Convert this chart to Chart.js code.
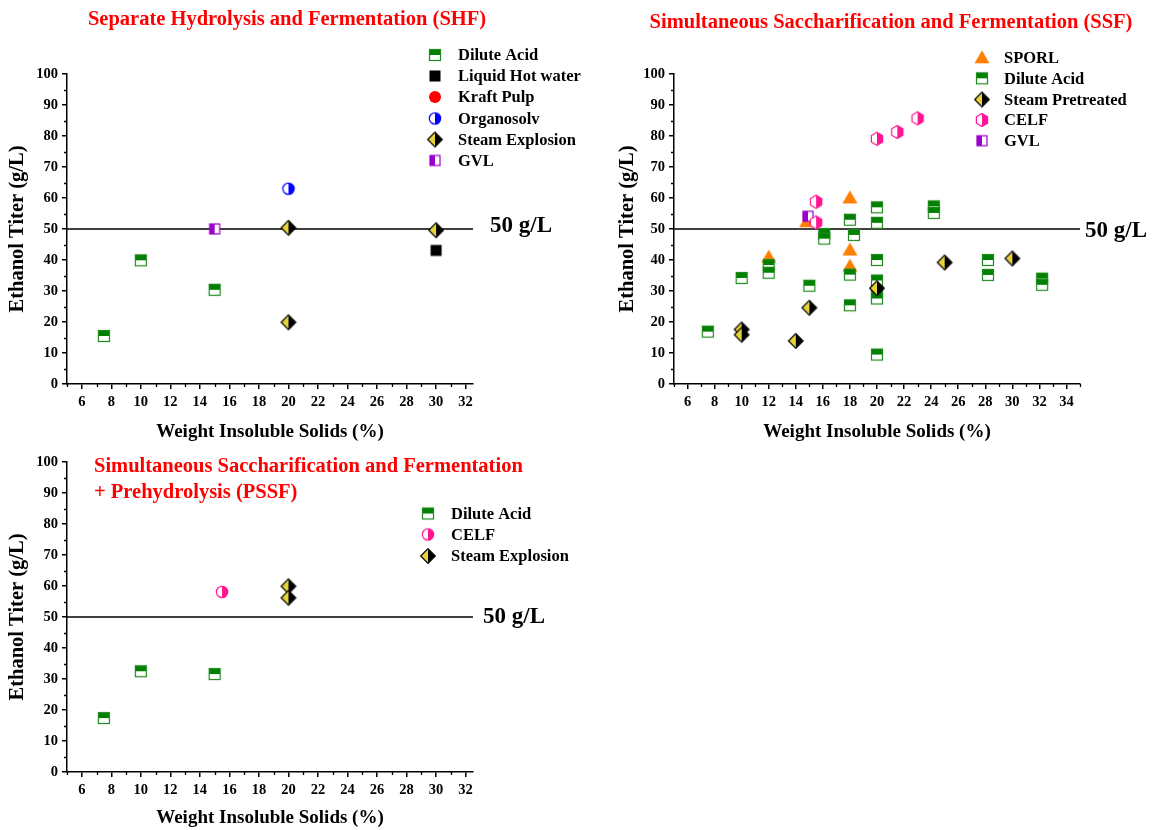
<!DOCTYPE html>
<html><head><meta charset="utf-8">
<script src="https://cdn.jsdelivr.net/npm/chart.js@4/dist/chart.umd.min.js"></script>
<style>
html,body{margin:0;padding:0;background:#fff;}
#wrap{position:relative;width:1153px;height:830px;overflow:hidden;background:#fff;}
canvas{position:absolute;}
</style></head><body>
<div id="wrap">
<canvas id="c1" width="600" height="445" style="left:0;top:0;width:600px;height:445px"></canvas>
<canvas id="c2" width="553" height="445" style="left:600px;top:0;width:553px;height:445px"></canvas>
<canvas id="c3" width="600" height="385" style="left:0;top:445px;width:600px;height:385px"></canvas>
</div>
<script>
// ---------------- DATA ----------------
const yTickValues = [0, 10, 20, 30, 40, 50, 60, 70, 80, 90, 100];
const yMinorValues = [5, 15, 25, 35, 45, 55, 65, 75, 85, 95];
const xTickValuesA = [6, 8, 10, 12, 14, 16, 18, 20, 22, 24, 26, 28, 30, 32];
const xMinorValuesA = [5, 7, 9, 11, 13, 15, 17, 19, 21, 23, 25, 27, 29, 31];
const xTickValuesB = [6, 8, 10, 12, 14, 16, 18, 20, 22, 24, 26, 28, 30, 32, 34];
const xMinorValuesB = [5, 7, 9, 11, 13, 15, 17, 19, 21, 23, 25, 27, 29, 31, 33, 35];
const xRangeA = [5, 32.5];
const xRangeB = [5, 35];
const yRange = [0, 100];
const thresholdY = 50;
const thresholdLabel = '50 g/L';

// SHF
const shfDiluteAcidX = [7.5, 10, 15];
const shfDiluteAcidY = [15.5, 39.9, 30.4];
const shfLiquidHotWaterX = [30];
const shfLiquidHotWaterY = [43.1];
const shfKraftPulpX = [];
const shfKraftPulpY = [];
const shfOrganosolvX = [20];
const shfOrganosolvY = [63];
const shfSteamExplosionX = [20, 20, 30];
const shfSteamExplosionY = [50.4, 19.9, 49.6];
const shfGvlX = [15];
const shfGvlY = [50];

// SSF
const ssfSporlX = [12, 14.8, 18, 18, 18];
const ssfSporlY = [41.1, 52.5, 60.2, 43.4, 38.2];
const ssfDiluteAcidX = [7.5, 10, 12, 12, 15, 16.1, 16.1, 18, 18.3, 18, 18, 20, 20, 20, 20, 20, 20, 20, 24.2, 24.2, 28.2, 28.2, 32.2, 32.2];
const ssfDiluteAcidY = [16.9, 34.2, 38.4, 35.9, 31.7, 48.4, 46.9, 53, 48.1, 35.3, 25.4, 57, 52, 40, 33.4, 29.3, 27.6, 9.5, 57.3, 55.2, 40, 35.2, 34, 32];
const ssfSteamPretreatedX = [10, 10, 14, 15, 20, 25, 30];
const ssfSteamPretreatedY = [17.6, 15.9, 13.9, 24.6, 30.9, 39.2, 40.5];
const ssfCelfX = [15.5, 15.5, 20, 21.5, 23];
const ssfCelfY = [58.8, 52.1, 79.1, 81.3, 85.7];
const ssfGvlX = [14.9];
const ssfGvlY = [54.1];

// PSSF
const pssfDiluteAcidX = [7.5, 10, 15];
const pssfDiluteAcidY = [17.4, 32.5, 31.6];
const pssfCelfX = [15.5];
const pssfCelfY = [58.1];
const pssfSteamExplosionX = [20, 20];
const pssfSteamExplosionY = [59.9, 56.2];

// ---------------- STYLE ----------------
const FONT = '"Liberation Serif", "Times New Roman", serif';
Chart.defaults.font.family = FONT;
Chart.defaults.font.weight = 'bold';
Chart.defaults.color = '#000';

const C_GREEN = '#008000', C_YEL = '#e6d43a', C_PURP = '#9900cc', C_MAG = '#ff1493', C_BLUE = '#0000ff', C_ORANGE = '#ff7f00';

function marker(kind) {
  const S = 18, m = S / 2;
  const c = document.createElement('canvas');
  c.width = S; c.height = S;
  const g = c.getContext('2d');
  g.lineWidth = 1.2;
  if (kind === 'dilute') {
    g.fillStyle = '#fff'; g.fillRect(m - 5.5, m - 5.5, 11, 11);
    g.fillStyle = C_GREEN; g.fillRect(m - 5.5, m - 5.5, 11, 5.5);
    g.strokeStyle = '#1f8a1f'; g.strokeRect(m - 5.5, m - 5.5, 11, 11);
  } else if (kind === 'lhw') {
    g.fillStyle = '#000'; g.fillRect(m - 5.5, m - 5.5, 11, 11);
  } else if (kind === 'kraft') {
    g.fillStyle = '#ff0000'; g.beginPath(); g.arc(m, m, 6, 0, Math.PI * 2); g.fill();
  } else if (kind === 'organo' || kind === 'celfCirc') {
    const col = kind === 'organo' ? C_BLUE : C_MAG;
    g.fillStyle = '#fff'; g.beginPath(); g.arc(m, m, 5.7, 0, Math.PI * 2); g.fill();
    g.fillStyle = col; g.beginPath(); g.arc(m, m, 5.7, -Math.PI / 2, Math.PI / 2); g.closePath(); g.fill();
    g.strokeStyle = col; g.beginPath(); g.arc(m, m, 5.7, 0, Math.PI * 2); g.stroke();
  } else if (kind === 'steam') {
    const r = 7.3;
    g.fillStyle = C_YEL; g.beginPath(); g.moveTo(m, m - r); g.lineTo(m - r, m); g.lineTo(m, m + r); g.closePath(); g.fill();
    g.fillStyle = '#000'; g.beginPath(); g.moveTo(m, m - r); g.lineTo(m + r, m); g.lineTo(m, m + r); g.closePath(); g.fill();
    g.strokeStyle = '#000'; g.beginPath(); g.moveTo(m, m - r); g.lineTo(m + r, m); g.lineTo(m, m + r); g.lineTo(m - r, m); g.closePath(); g.stroke();
  } else if (kind === 'gvl') {
    g.fillStyle = '#fff'; g.fillRect(m - 5, m - 5, 10, 10);
    g.fillStyle = C_PURP; g.fillRect(m - 5, m - 5, 5, 10);
    g.strokeStyle = C_PURP; g.strokeRect(m - 5, m - 5, 10, 10);
  } else if (kind === 'sporl') {
    g.fillStyle = C_ORANGE; g.beginPath(); g.moveTo(m, m - 7); g.lineTo(m + 7.5, m + 6); g.lineTo(m - 7.5, m + 6); g.closePath(); g.fill();
  } else if (kind === 'celfHex') {
    const r = 6.5, pts = [];
    for (let i = 0; i < 6; i++) { const a = -Math.PI / 2 + i * Math.PI / 3; pts.push([m + r * Math.cos(a), m + r * Math.sin(a)]); }
    g.fillStyle = '#fff'; g.beginPath(); pts.forEach((p, i) => i ? g.lineTo(p[0], p[1]) : g.moveTo(p[0], p[1])); g.closePath(); g.fill();
    g.fillStyle = C_MAG; g.beginPath(); g.moveTo(pts[0][0], pts[0][1]); g.lineTo(pts[1][0], pts[1][1]); g.lineTo(pts[2][0], pts[2][1]); g.lineTo(pts[3][0], pts[3][1]); g.closePath(); g.fill();
    g.strokeStyle = C_MAG; g.beginPath(); pts.forEach((p, i) => i ? g.lineTo(p[0], p[1]) : g.moveTo(p[0], p[1])); g.closePath(); g.stroke();
  }
  return c;
}
const M = {};
['dilute', 'lhw', 'kraft', 'organo', 'celfCirc', 'steam', 'gvl', 'sporl', 'celfHex'].forEach(k => M[k] = marker(k));

function pts(xs, ys) { return xs.map((x, i) => ({ x: x, y: ys[i] })); }
function ds(label, xs, ys, kind) {
  return { label: label, data: pts(xs, ys), pointStyle: M[kind], pointRadius: 7, pointHoverRadius: 7, showLine: false, _kind: kind };
}
function refLine(range) {
  return { label: 'ref', data: [{ x: range[0], y: thresholdY }, { x: range[1], y: thresholdY }], showLine: true, borderColor: '#000', borderWidth: 1.5, pointRadius: 0, order: 99, _ref: true };
}

function overlay(cfg) {
  return {
    id: 'overlay',
    afterDraw(chart) {
      const ctx = chart.ctx, xs = chart.scales.x, ys = chart.scales.y, a = chart.chartArea;
      ctx.save();
      // minor ticks
      ctx.strokeStyle = '#000'; ctx.lineWidth = 1.3;
      ctx.beginPath();
      cfg.xMinor.forEach(v => { const p = Math.round(xs.getPixelForValue(v)) + 0.5; ctx.moveTo(p, a.bottom); ctx.lineTo(p, a.bottom + 3); });
      yMinorValues.forEach(v => { const p = Math.round(ys.getPixelForValue(v)) + 0.5; ctx.moveTo(a.left, p); ctx.lineTo(a.left - 3, p); });
      ctx.stroke();
      // titles
      ctx.fillStyle = '#ff0000';
      ctx.font = 'bold 20.5px ' + FONT;
      ctx.textBaseline = 'middle';
      cfg.titles.forEach(t => { ctx.textAlign = t.align; ctx.fillText(t.text, t.x, t.y); });
      // legend
      ctx.fillStyle = '#000';
      ctx.font = 'bold 16.5px ' + FONT;
      ctx.textAlign = 'left';
      const items = chart.data.datasets.filter(d => !d._ref);
      cfg.legendOrder.forEach((idx, i) => {
        const d = items[idx];
        const y = cfg.legendY[i];
        ctx.drawImage(d.pointStyle, cfg.legendMarkerX - 9, y - 9);
        ctx.fillText(d.label, cfg.legendTextX, y + 1);
      });
      // threshold label
      ctx.font = 'bold 23px ' + FONT;
      ctx.fillText(thresholdLabel, cfg.refLabelX, ys.getPixelForValue(thresholdY) + cfg.refLabelDY);
      ctx.restore();
    }
  };
}

function makeChart(id, datasets, o) {
  return new Chart(document.getElementById(id), {
    type: 'scatter',
    data: { datasets: datasets },
    options: {
      responsive: false, animation: false, devicePixelRatio: 1,
      layout: { padding: o.padding },
      plugins: { legend: { display: false }, tooltip: { enabled: false } },
      events: [],
      scales: {
        x: {
          type: 'linear', min: o.xRange[0], max: o.xRange[1],
          afterBuildTicks: s => { s.ticks = o.xTicks.map(v => ({ value: v })); },
          afterFit: s => { s.height = o.xHeight; },
          ticks: { font: { size: 14.5, weight: 'bold' }, padding: 5, maxRotation: 0, autoSkip: false, color: '#000' },
          grid: { drawOnChartArea: false, drawTicks: true, tickLength: 5, color: '#000', lineWidth: 1.5 },
          border: { display: true, color: '#000', width: 1.5 },
          title: { display: true, text: 'Weight Insoluble Solids (%)', font: { size: 19, weight: 'bold' }, color: '#000', padding: { top: 0, bottom: o.xTitlePad } }
        },
        y: {
          type: 'linear', min: yRange[0], max: yRange[1],
          afterBuildTicks: s => { s.ticks = yTickValues.map(v => ({ value: v })); },
          afterFit: s => { s.width = o.yWidth; },
          ticks: { font: { size: 14.5, weight: 'bold' }, padding: 4, autoSkip: false, color: '#000' },
          grid: { drawOnChartArea: false, drawTicks: true, tickLength: 5, color: '#000', lineWidth: 1.5 },
          border: { display: true, color: '#000', width: 1.5 },
          title: { display: true, text: 'Ethanol Titer (g/L)', font: { size: 20.5, weight: 'bold' }, color: '#000', padding: { top: 5.7, bottom: 0 } }
        }
      }
    },
    plugins: [overlay(o.overlay)]
  });
}

// ---- Chart 1: SHF ----
makeChart('c1', [
  ds('GVL', shfGvlX, shfGvlY, 'gvl'),
  ds('Steam Explosion', shfSteamExplosionX, shfSteamExplosionY, 'steam'),
  ds('Organosolv', shfOrganosolvX, shfOrganosolvY, 'organo'),
  ds('Kraft Pulp', shfKraftPulpX, shfKraftPulpY, 'kraft'),
  ds('Liquid Hot water', shfLiquidHotWaterX, shfLiquidHotWaterY, 'lhw'),
  ds('Dilute Acid', shfDiluteAcidX, shfDiluteAcidY, 'dilute'),
  refLine(xRangeA)
], {
  padding: { left: 0, top: 74, right: 127, bottom: 0 },
  xRange: xRangeA, xTicks: xTickValuesA, xHeight: 61, yWidth: 67, xTitlePad: 1.6,
  overlay: {
    xMinor: xMinorValuesA,
    titles: [{ text: 'Separate Hydrolysis and Fermentation (SHF)', x: 287, y: 20, align: 'center' }],
    legendOrder: [5, 4, 3, 2, 1, 0], legendY: [55, 76, 97, 118.5, 139.5, 160.5],
    legendMarkerX: 435, legendTextX: 458, refLabelX: 490, refLabelDY: -3
  }
});

// ---- Chart 2: SSF ----
makeChart('c2', [
  ds('CELF', ssfCelfX, ssfCelfY, 'celfHex'),
  ds('GVL', ssfGvlX, ssfGvlY, 'gvl'),
  ds('Steam Pretreated', ssfSteamPretreatedX, ssfSteamPretreatedY, 'steam'),
  ds('Dilute Acid', ssfDiluteAcidX, ssfDiluteAcidY, 'dilute'),
  ds('SPORL', ssfSporlX, ssfSporlY, 'sporl'),
  refLine(xRangeB)
], {
  padding: { left: 10, top: 74, right: 73, bottom: 0 },
  xRange: xRangeB, xTicks: xTickValuesB, xHeight: 61, yWidth: 64, xTitlePad: 1.6,
  overlay: {
    xMinor: xMinorValuesB,
    titles: [{ text: 'Simultaneous Saccharification and Fermentation (SSF)', x: 291, y: 23, align: 'center' }],
    legendOrder: [4, 3, 2, 0, 1], legendY: [57.3, 78.3, 99.5, 120, 140.7],
    legendMarkerX: 382, legendTextX: 404, refLabelX: 485, refLabelDY: 2
  }
});

// ---- Chart 3: PSSF ----
makeChart('c3', [
  ds('Steam Explosion', pssfSteamExplosionX, pssfSteamExplosionY, 'steam'),
  ds('CELF', pssfCelfX, pssfCelfY, 'celfCirc'),
  ds('Dilute Acid', pssfDiluteAcidX, pssfDiluteAcidY, 'dilute'),
  refLine(xRangeA)
], {
  padding: { left: 0, top: 17, right: 127, bottom: 0 },
  xRange: xRangeA, xTicks: xTickValuesA, xHeight: 58, yWidth: 67, xTitlePad: 0.6,
  overlay: {
    xMinor: xMinorValuesA,
    titles: [
      { text: 'Simultaneous Saccharification and Fermentation', x: 94, y: 22, align: 'left' },
      { text: '+ Prehydrolysis (PSSF)', x: 94, y: 48, align: 'left' }
    ],
    legendOrder: [2, 1, 0], legendY: [68.5, 89.5, 111],
    legendMarkerX: 428, legendTextX: 451, refLabelX: 483, refLabelDY: 0
  }
});
</script>
</body></html>
